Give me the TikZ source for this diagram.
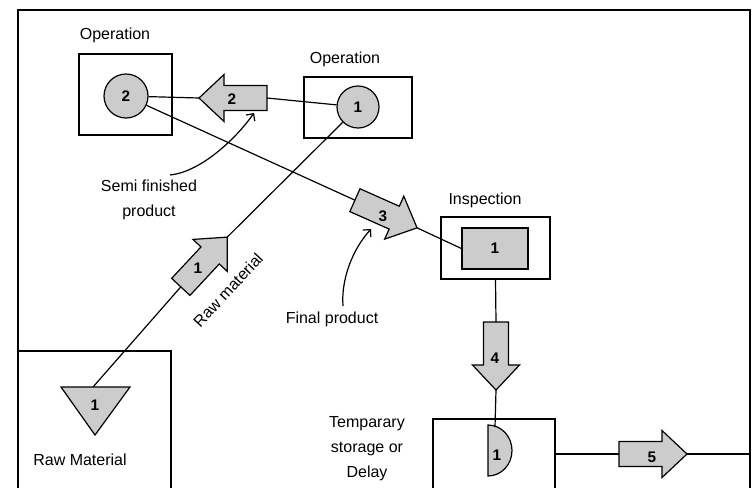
\documentclass[tikz,border=0pt]{standalone}
\usepackage{fontspec}
\setmainfont{Liberation Sans}
\usetikzlibrary{arrows.meta}
\definecolor{shade}{gray}{0.8}
\tikzset{
  lbl/.style={font=\fontsize{12}{14}\selectfont, inner sep=0pt},
  lblml/.style={font=\fontsize{12}{19}\selectfont, inner sep=0pt, align=center},
  num/.style={font=\fontsize{11.5}{13}\selectfont\bfseries, inner sep=0pt},
  shp/.style={draw, line width=0.9pt, fill=shade},
  box/.style={draw, line width=0.9pt, inner sep=0pt},
  conn/.style={line width=0.9pt},
  annot/.style={line width=0.9pt, -{Straight Barb[length=4pt,width=8pt]}},
  frame/.style={line width=1.2pt},
  flowarrow/.pic={
    \draw[shp] (-34,-12.5) -- (9,-12.5) -- (9,-23.5) -- (34,0) -- (9,23.5) -- (9,12.5) -- (-34,12.5) -- cycle;
    \coordinate (-tip) at (34,0);
    \coordinate (-tail) at (-34,0);
  }
}
\begin{document}
\begin{tikzpicture}[x=0.75pt, y=-0.75pt]
\useasboundingbox (0,0) rectangle (752,487);
\clip (0,0) rectangle (752,487);
\fill[white] (0,0) rectangle (752,487);

% outer frame
\draw[frame] (18,495) -- (18,10) -- (750,10) -- (750,495);

% operation 2
\node[box, minimum width=69.75pt, minimum height=60.75pt] (op2) at (125.5,94.5) {};
\node[shp, circle, minimum size=33pt, num] (c2) at (126,96) {2};
\node[lbl] (lop2) at (115,35) {Operation};

% operation 1
\node[box, minimum width=81pt, minimum height=45.75pt] (op1) at (358,107.5) {};
\node[shp, circle, minimum size=31.5pt, num] (c1) at (358,107) {1};
\node[lbl] (lop1) at (345,59) {Operation};

% inspection
\node[box, minimum width=81.75pt, minimum height=46.5pt] (insp) at (495.5,248) {};
\node[shp, rectangle, minimum width=49.5pt, minimum height=30.75pt, num] (inner) at (495,248.5) {1};
\node[lbl] (linsp) at (485,200) {Inspection};

% raw material
\draw[conn] (18,351) rectangle (171,500);
\draw[shp] (61,387) -- (130,387) -- (95,435) -- cycle;
\node[num] (t1) at (95,405) {1};
\coordinate (tritop) at (93,387);
\node[lbl] (lraw) at (80,460) {Raw Material};

% storage / delay
\draw[conn] (433,500) -- (433,419) -- (555,419) -- (555,500);
\draw[shp] (488,476) -- (488,425) arc[start angle=90, end angle=-90, x radius=18pt, y radius=19.125pt] -- cycle;
\node[num] (d1) at (497,455) {1};
\coordinate (dtop) at (495,427);
\coordinate (storeE) at (555,454);
\node[lblml] (lstore) at (367,448.5) {Temparary\\storage or\\Delay};

% flow arrows
\pic[rotate=180] (a2) at (233,98) {flowarrow};
\pic[rotate=-24] (a3) at (386,214) {flowarrow};
\pic[rotate=47] (a1) at (204,262) {flowarrow};
\pic[rotate=-90] (a4) at (496,356) {flowarrow};
\pic (a5) at (653,454) {flowarrow};
\node[num] (n2) at (232,99) {2};
\node[num] (n3) at (383,216) {3};
\node[num] (n1) at (198,268) {1};
\node[num] (n4) at (495,358) {4};
\node[num] (n5) at (652,457) {5};

% connectors
\coordinate (frameR) at (750,454);
\draw[conn] (c2) -- (a2-tip);
\draw[conn] (a2-tail) -- (c1);
\draw[conn] (c2) -- (a3-tail);
\draw[conn] (a3-tip) -- (inner.west);
\draw[conn] (tritop) -- (a1-tail);
\draw[conn] (a1-tip) -- (c1.south west);
\draw[conn] (insp.south) -- (a4-tail);
\draw[conn] (a4-tip) -- (dtop);
\draw[conn] (storeE) -- (a5-tail);
\draw[conn] (a5-tip) -- (frameR);

% annotations
\node[lblml] (lsemi) at (149,200) {Semi finished\\product};
\coordinate (semiS) at (170,175);
\coordinate (semiT) at (254,113);
\draw[annot] (semiS) .. controls (200,172) and (235,140) .. (semiT);
\node[lbl] (lfinal) at (332,319) {Final product};
\coordinate (finS) at (343,306);
\coordinate (finT) at (371,229);
\draw[annot] (finS) .. controls (341,280) and (352,250) .. (finT);
\node[lbl, rotate=47] (lrawm) at (228,290) {Raw material};
\end{tikzpicture}
\end{document}
